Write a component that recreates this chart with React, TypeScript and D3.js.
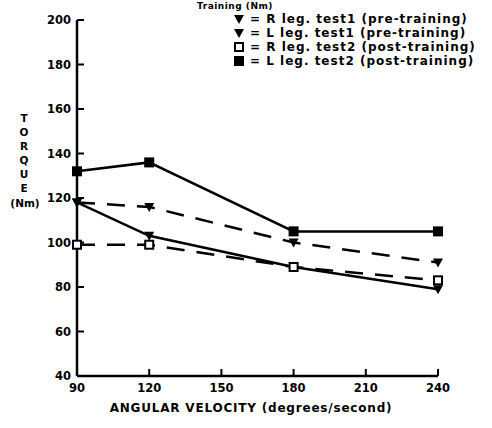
import React from "react";
import * as d3 from "d3";

const velocities = [90, 120, 180, 240];
const rLegTest1 = [118, 103, 89, 79];
const lLegTest1 = [118, 116, 100, 91];
const rLegTest2 = [99, 99, 89, 83];
const lLegTest2 = [132, 136, 105, 105];

const xTicks = [90, 120, 150, 180, 210, 240];
const yTicks = [40, 60, 80, 100, 120, 140, 160, 180, 200];

const legendLabels = [
  "= R leg. test1 (pre-training)",
  "= L leg. test1 (pre-training)",
  "= R leg. test2 (post-training)",
  "= L leg. test2 (post-training)",
];
const yTitleLetters = ["T", "O", "R", "Q", "U", "E"];

const W = 492;
const H = 428;
const FONT = "'DejaVu Sans', sans-serif";

type Marker = "tri" | "sq" | "sqOpen";

const series: { values: number[]; dashed: boolean; marker: Marker }[] = [
  { values: rLegTest1, dashed: false, marker: "tri" },
  { values: lLegTest1, dashed: true, marker: "tri" },
  { values: rLegTest2, dashed: true, marker: "sqOpen" },
  { values: lLegTest2, dashed: false, marker: "sq" },
];

function MarkerShape({ kind, x, y }: { kind: Marker; x: number; y: number }) {
  if (kind === "tri") {
    return <path d={`M${x - 5},${y - 4} L${x + 5},${y - 4} L${x},${y + 5} Z`} fill="#000" />;
  }
  if (kind === "sq") {
    return <rect x={x - 5} y={y - 5} width={10} height={10} fill="#000" />;
  }
  return <rect x={x - 4} y={y - 4} width={8} height={8} fill="#fff" stroke="#000" strokeWidth={2} />;
}

export default function App() {
  const x = d3.scaleLinear().domain([90, 240]).range([77, 438]);
  const y = d3.scaleLinear().domain([40, 200]).range([376, 20]);
  const line = d3
    .line<number>()
    .x((_, i) => x(velocities[i]))
    .y((d) => y(d));

  return (
    <svg
      width={W}
      height={H}
      style={{ position: "absolute", left: 0, top: 0, background: "#fff" }}
      fontFamily={FONT}
      fontWeight="bold"
    >
      <rect width={W} height={H} fill="#fff" />
      <text x={235} y={9} fontSize={9} textAnchor="middle" fill="#000" letterSpacing={0.5}>
        Training (Nm)
      </text>

      {/* axes */}
      <line x1={x(90)} x2={x(90)} y1={y(200)} y2={y(40)} stroke="#000" strokeWidth={2.5} />
      <line x1={x(90)} x2={x(240)} y1={y(40)} y2={y(40)} stroke="#000" strokeWidth={2.5} />
      {yTicks.map((t) => (
        <g key={`y${t}`}>
          <line x1={x(90)} x2={x(90) + 7} y1={y(t)} y2={y(t)} stroke="#000" strokeWidth={2} />
          <text x={x(90) - 6} y={y(t) + 4} fontSize={11.5} textAnchor="end" fill="#000">
            {t}
          </text>
        </g>
      ))}
      {xTicks.map((t) => (
        <g key={`x${t}`}>
          <line x1={x(t)} x2={x(t)} y1={y(40)} y2={y(40) - 7} stroke="#000" strokeWidth={2} />
          <text x={x(t)} y={y(40) + 16} fontSize={11.5} textAnchor="middle" fill="#000">
            {t}
          </text>
        </g>
      ))}

      {/* axis titles */}
      <text x={251} y={412} fontSize={12} letterSpacing={0.8} textAnchor="middle" fill="#000">
        ANGULAR VELOCITY (degrees/second)
      </text>
      {yTitleLetters.map((c, i) => (
        <text key={c + i} x={24} y={122 + i * 14} fontSize={10.5} textAnchor="middle" fill="#000">
          {c}
        </text>
      ))}
      <text x={25} y={207} fontSize={10.5} textAnchor="middle" fill="#000">
        (Nm)
      </text>

      {/* series */}
      {series.map((s, si) => (
        <g key={si}>
          <path
            d={line(s.values) || ""}
            fill="none"
            stroke="#000"
            strokeWidth={2.5}
            strokeDasharray={s.dashed ? "18,12" : undefined}
          />
          {s.values.map((v, i) => (
            <MarkerShape key={i} kind={s.marker} x={x(velocities[i])} y={y(v)} />
          ))}
        </g>
      ))}

      {/* legend */}
      {legendLabels.map((lab, i) => (
        <g key={lab}>
          <MarkerShape kind={series[i].marker} x={239} y={19 + i * 14} />
          <text x={250} y={23 + i * 14} fontSize={12} letterSpacing={1} fill="#000">
            {lab}
          </text>
        </g>
      ))}
    </svg>
  );
}
